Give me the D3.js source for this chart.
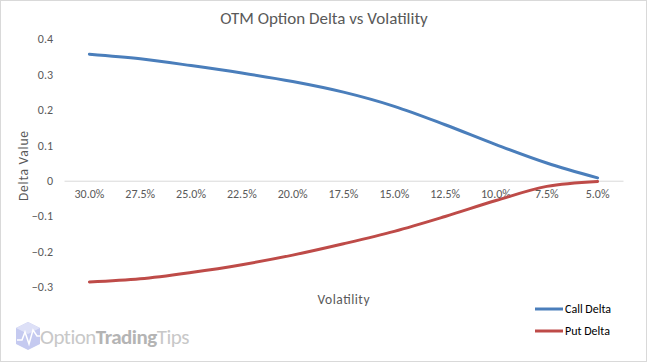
<!DOCTYPE html>
<html>
<head>
<meta charset="utf-8">
<script src="https://cdn.jsdelivr.net/npm/d3@7"></script>
<style>
  body { margin: 0; background: #fff; }
  text { font-family: Carlito, Calibri, "Liberation Sans", Arial, sans-serif; fill: #595959; }
</style>
</head>
<body>
<div class="chart"></div>
<script>
const categories = ["30.0%", "27.5%", "25.0%", "22.5%", "20.0%", "17.5%", "15.0%", "12.5%", "10.0%", "7.5%", "5.0%"];
const callDelta = [0.357, 0.344, 0.325, 0.304, 0.280, 0.250, 0.210, 0.158, 0.102, 0.050, 0.008];
const putDelta = [-0.286, -0.277, -0.259, -0.237, -0.210, -0.178, -0.143, -0.101, -0.056, -0.016, -0.002];
const yTicks = [0.4, 0.3, 0.2, 0.1, 0, -0.1, -0.2, -0.3];

const W = 647, H = 362;
const margin = {top: 39, right: 24, bottom: 75, left: 64};
const width = W - margin.left - margin.right,
      height = H - margin.top - margin.bottom;

const svg = d3.select(".chart").append("svg")
    .attr("width", W)
    .attr("height", H);

// outer border
svg.append("rect")
    .attr("x", 0.5).attr("y", 0.5)
    .attr("width", W - 1).attr("height", H - 1)
    .attr("fill", "#fff")
    .attr("stroke", "#d9d9d9");

const g = svg.append("g")
    .attr("transform", "translate(" + margin.left + "," + margin.top + ")");

const x = d3.scaleBand()
    .domain(categories)
    .range([0, 559]);

const y = d3.scaleLinear()
    .domain([-0.3, 0.4])
    .range([height, 0]);

// y axis labels (no line)
const yAxis = g.append("g")
    .call(d3.axisLeft(y).tickValues(yTicks).tickSize(0).tickPadding(11)
      .tickFormat(d => d === 0 ? "0" : d3.format(".1f")(d)));
yAxis.select(".domain").remove();
yAxis.selectAll("text").style("font-size", "12px").attr("fill", "#595959");

// x axis at zero
const xAxis = g.append("g")
    .attr("transform", "translate(0," + y(0) + ")")
    .call(d3.axisBottom(x).tickSize(0).tickPadding(9));
xAxis.select(".domain").attr("stroke", "#d9d9d9");
xAxis.selectAll("text").style("font-size", "12px").attr("fill", "#595959");

const line = d3.line()
    .x((d, i) => x(categories[i]) + x.bandwidth() / 2)
    .y(d => y(d))
    .curve(d3.curveCatmullRom.alpha(0.5));

const series = [
  {name: "Call Delta", values: callDelta, color: "#4a7ebb"},
  {name: "Put Delta", values: putDelta, color: "#be4b48"}
];

g.selectAll(".series")
    .data(series)
    .enter()
    .append("path")
    .attr("class", "series")
    .attr("fill", "none")
    .attr("stroke", d => d.color)
    .attr("stroke-width", 3)
    .attr("stroke-linecap", "round")
    .attr("d", d => line(d.values));

// title and axis titles
svg.append("text")
    .attr("x", 324).attr("y", 24)
    .attr("text-anchor", "middle")
    .style("font-size", "17px")
    .text("OTM Option Delta vs Volatility");

svg.append("text")
    .attr("x", margin.left + 559 / 2).attr("y", 304)
    .attr("text-anchor", "middle")
    .style("font-size", "13.5px")
    .attr("textLength", 52)
    .attr("lengthAdjust", "spacing")
    .text("Volatility");

svg.append("text")
    .attr("transform", "translate(28,166) rotate(-90)")
    .attr("text-anchor", "middle")
    .style("font-size", "13.5px")
    .attr("textLength", 70)
    .attr("lengthAdjust", "spacing")
    .text("Delta Value");

// legend
const legend = svg.selectAll(".legend")
    .data(series)
    .enter()
    .append("g")
    .attr("class", "legend")
    .attr("transform", (d, i) => "translate(535," + (309 + i * 22) + ")");
legend.append("line")
    .attr("x1", 0).attr("x2", 28)
    .attr("stroke", d => d.color)
    .attr("stroke-width", 3);
legend.append("text")
    .attr("x", 30).attr("y", 4)
    .style("font-size", "12px")
    .style("fill", "#000")
    .text(d => d.name);

// watermark logo
const logo = svg.append("g").attr("transform", "translate(16,322)");
logo.append("polygon")
    .attr("points", "0,6 12,0 24,6 24,22 12,28 0,22")
    .attr("fill", "#c5caf0");
logo.append("polygon")
    .attr("points", "12,0 24,6 12,12 0,6")
    .attr("fill", "#dde0f7");
logo.append("polyline")
    .attr("points", "1,18 6,18 9,10 13,22 17,8 21,14 24,14")
    .attr("fill", "none")
    .attr("stroke", "#fff")
    .attr("stroke-width", 1.5);
const logoText = svg.append("text")
    .attr("x", 40).attr("y", 344)
    .style("font-size", "21px")
    .style("letter-spacing", "-0.5px");
logoText.append("tspan").style("fill", "#c8c8c8").text("Option");
logoText.append("tspan").style("fill", "#b4b4b4").style("font-weight", "bold").text("Trading");
logoText.append("tspan").style("fill", "#c8c8c8").text("Tips");
</script>
</body>
</html>
